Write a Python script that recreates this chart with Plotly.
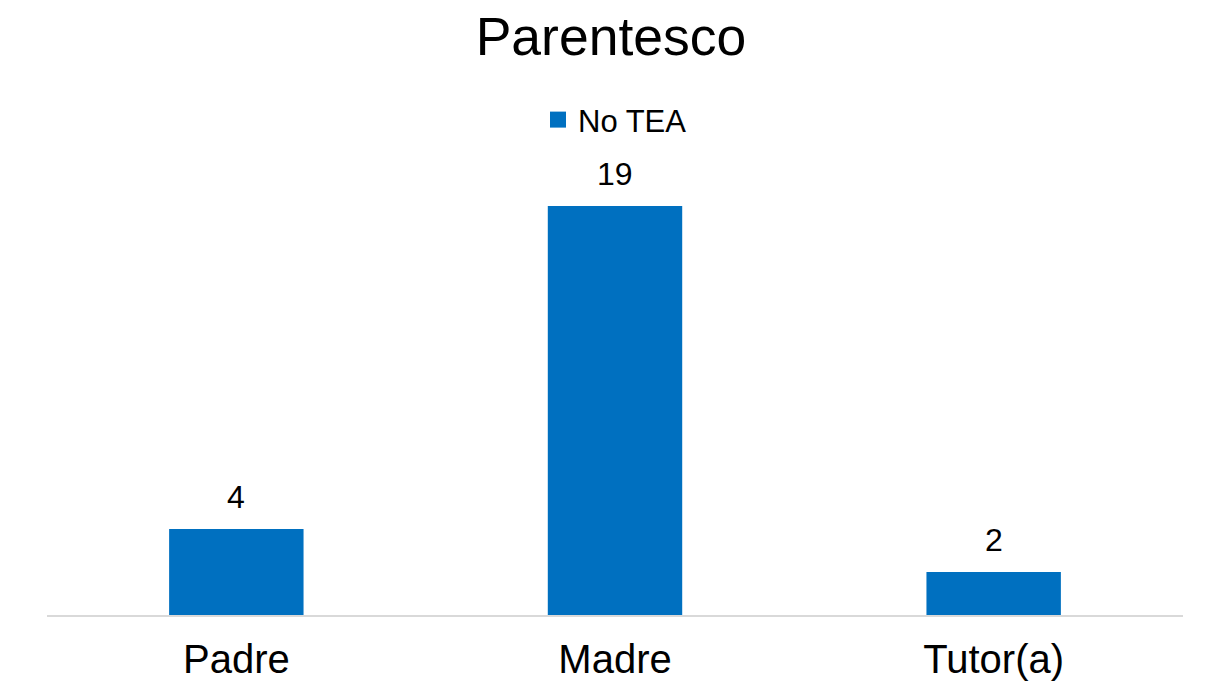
import plotly.graph_objects as go

# Datos
categorias = ["Padre", "Madre", "Tutor(a)"]
valores = [4, 19, 2]
serie = "No TEA"

AZUL = "#0070C0"
FUENTE = "Liberation Sans, Arial, sans-serif"

fig = go.Figure()

# Barras (sin entrada de leyenda; la leyenda usa un marcador cuadrado mayor)
fig.add_trace(go.Bar(
    x=categorias,
    y=valores,
    width=0.355,
    marker=dict(color=AZUL, line=dict(width=0)),
    showlegend=False,
    hoverinfo="x+y",
))

# Entrada de leyenda
fig.add_trace(go.Scatter(
    x=[None], y=[None],
    mode="markers",
    name=serie,
    marker=dict(symbol="square", size=16, color=AZUL),
))

# Etiquetas de valor sobre cada barra
for cat, val in zip(categorias, valores):
    fig.add_annotation(
        x=cat, y=val, text=str(val),
        showarrow=False, yanchor="bottom", yshift=12,
        font=dict(family=FUENTE, size=32, color="#000000"),
    )

fig.update_layout(
    width=1210, height=699,
    paper_bgcolor="white", plot_bgcolor="white",
    margin=dict(l=47, r=27, t=160, b=84),
    title=dict(
        text="Parentesco",
        x=611 / 1210, xanchor="center",
        y=1 - 36 / 699, yanchor="middle",
        font=dict(family=FUENTE, size=53.5, color="#000000"),
    ),
    legend=dict(
        orientation="h",
        x=0.5, xanchor="center",
        y=1.088, yanchor="middle",
        font=dict(family=FUENTE, size=31, color="#000000"),
        itemwidth=30,
        bgcolor="rgba(0,0,0,0)",
    ),
    xaxis=dict(
        showline=True, linecolor="#D9D9D9", linewidth=2,
        showgrid=False, zeroline=False, ticks="",
        ticklabelstandoff=8,
        tickfont=dict(family=FUENTE, size=40, color="#000000"),
        fixedrange=True,
    ),
    yaxis=dict(
        range=[0, 21.14],
        visible=False, showgrid=False, zeroline=False,
        fixedrange=True,
    ),
    showlegend=True,
)

fig.write_html("out.html")
